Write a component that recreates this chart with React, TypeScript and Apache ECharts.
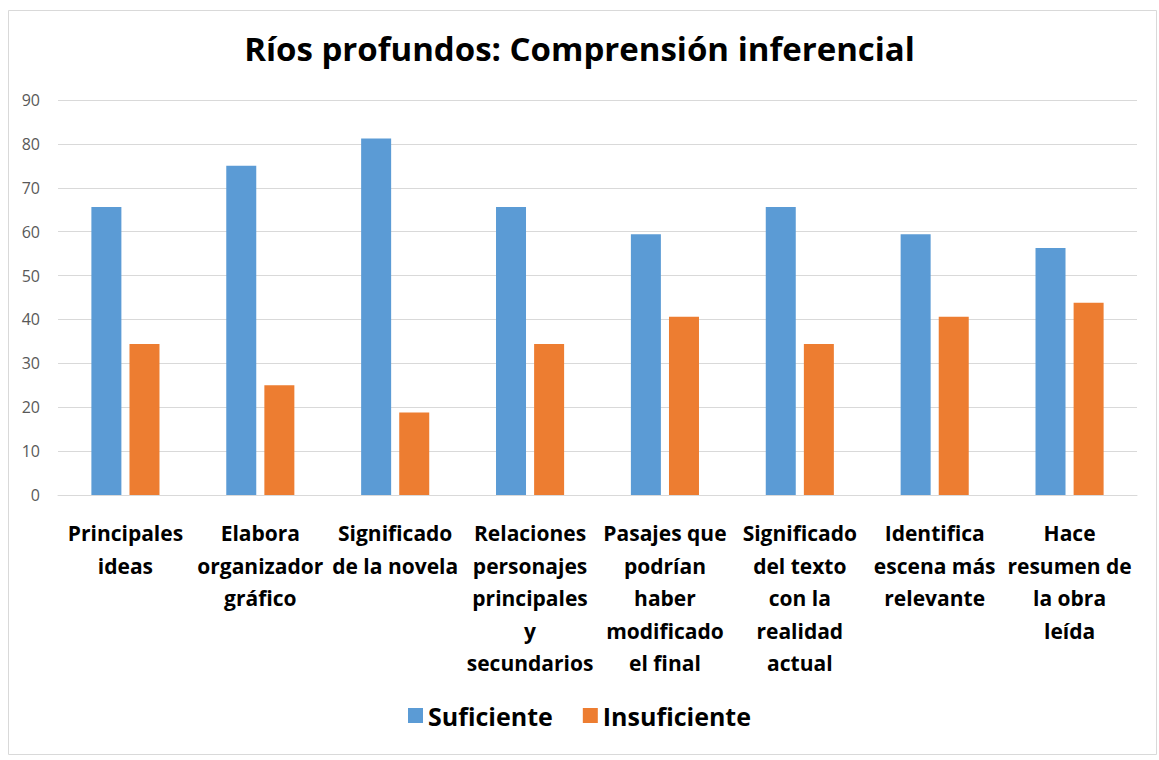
import React, { useEffect, useRef } from "react";
import * as echarts from "echarts";

const categories = [
  "Principales\nideas",
  "Elabora\norganizador\ngráfico",
  "Significado\nde la novela",
  "Relaciones\npersonajes\nprincipales\ny\nsecundarios",
  "Pasajes que\npodrían\nhaber\nmodificado\nel final",
  "Significado\ndel texto\ncon la\nrealidad\nactual",
  "Identifica\nescena más\nrelevante",
  "Hace\nresumen de\nla obra\nleída",
];
const suficiente = [65.6, 75, 81.2, 65.6, 59.4, 65.6, 59.4, 56.3];
const insuficiente = [34.4, 25, 18.8, 34.4, 40.6, 34.4, 40.6, 43.8];
const yTicks = { min: 0, max: 90, interval: 10 };

export default function App() {
  const ref = useRef<HTMLDivElement>(null);
  useEffect(() => {
    document.body.style.margin = "0";
    const chart = echarts.init(ref.current!, undefined, { renderer: "svg" });
    const font = "'Open Sans', Lato, sans-serif";
    chart.setOption({
      animation: false,
      backgroundColor: "#ffffff",
      title: {
        text: "Ríos profundos: Comprensión inferencial",
        left: "center",
        top: 27,
        textStyle: { fontFamily: font, fontSize: 33, fontWeight: "bold", color: "#000000" },
      },
      graphic: [
        {
          type: "rect",
          shape: { x: 8.5, y: 10.5, width: 1148, height: 744 },
          style: { fill: "none", stroke: "#d9d9d9", lineWidth: 1 },
          silent: true,
        },
      ],
      legend: {
        bottom: 27,
        left: "center",
        itemWidth: 15,
        itemHeight: 15,
        itemGap: 30,
        icon: "rect",
        textStyle: { fontFamily: font, fontSize: 25, fontWeight: "bold", color: "#000000" },
        data: ["Suficiente", "Insuficiente"],
      },
      grid: { left: 58, right: 22, top: 100, bottom: 265 },
      xAxis: {
        type: "category",
        data: categories,
        axisLine: { lineStyle: { color: "#d9d9d9" } },
        axisTick: { show: false },
        axisLabel: {
          interval: 0,
          margin: 22,
          fontFamily: font,
          fontSize: 21,
          fontWeight: "bold",
          color: "#000000",
          lineHeight: 32.5,
          overflow: "none",
        },
      },
      yAxis: {
        type: "value",
        min: yTicks.min,
        max: yTicks.max,
        interval: yTicks.interval,
        axisLine: { show: false },
        axisTick: { show: false },
        splitLine: { lineStyle: { color: "#d9d9d9" } },
        axisLabel: { margin: 18, fontFamily: font, fontSize: 16, color: "#595959" },
      },
      series: [
        {
          name: "Suficiente",
          type: "bar",
          data: suficiente,
          barWidth: 30,
          barGap: "27%",
          itemStyle: { color: "#5b9bd5" },
        },
        {
          name: "Insuficiente",
          type: "bar",
          data: insuficiente,
          barWidth: 30,
          barGap: "27%",
          itemStyle: { color: "#ed7d31" },
        },
      ],
    });
    return () => chart.dispose();
  }, []);
  return <div ref={ref} style={{ width: 1159, height: 760 }} />;
}
